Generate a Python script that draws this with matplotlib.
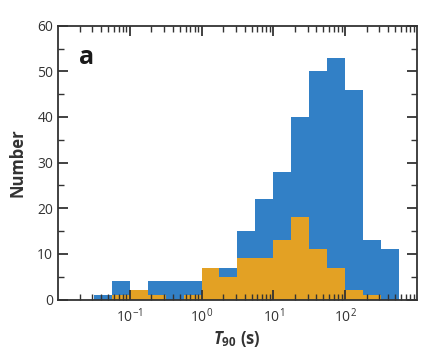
import numpy as np
import matplotlib
matplotlib.use("Agg")
import matplotlib.pyplot as plt
from matplotlib.ticker import LogLocator, MultipleLocator, NullFormatter, FixedLocator


# ============================================================
# Data
# ============================================================

# bin edges are quarter decades, log10(T90) from -1.5 to 2.75
LOG_EDGES = [-1.5, -1.25, -1.0, -0.75, -0.5, -0.25, 0.0, 0.25, 0.5,
             0.75, 1.0, 1.25, 1.5, 1.75, 2.0, 2.25, 2.5, 2.75]

COUNTS_ALL = [1, 4, 2, 4, 4, 4, 7, 7, 15, 22, 28, 40, 50, 53, 46, 13, 11]
COUNTS_SUB = [0, 1, 2, 1, 0, 1, 7, 5, 9, 9, 13, 18, 11, 7, 2, 1, 0]

X_TICK_EXP = [-1, 0, 1, 2]

BLUE = "#3280c6"
ORANGE = "#e3a124"
INK = "#333333"

plt.rcParams["font.family"] = ["Open Sans", "DejaVu Sans"]
plt.rcParams["mathtext.fontset"] = "custom"
plt.rcParams["mathtext.rm"] = "Open Sans"
plt.rcParams["mathtext.it"] = "Open Sans:italic"
plt.rcParams["mathtext.bf"] = "Open Sans:bold"
plt.rcParams["mathtext.bfit"] = "Open Sans:italic:bold"


def main():
    edges = 10 ** np.array(LOG_EDGES)

    fig = plt.figure(figsize=(4.36, 3.57), dpi=100)
    ax = fig.add_axes([0.133, 0.161, 0.823, 0.767])

    ax.stairs(COUNTS_ALL, edges, fill=True, color=BLUE, lw=0)
    ax.stairs(COUNTS_SUB, edges, fill=True, color=ORANGE, lw=0)

    ax.set_xscale("log")
    ax.set_xlim(1e-2, 1e3)
    ax.set_ylim(0, 60)

    ax.xaxis.set_major_locator(FixedLocator([10.0 ** e for e in X_TICK_EXP]))
    ax.set_xticklabels([r"$10^{%d}$" % e for e in X_TICK_EXP])
    ax.xaxis.set_minor_locator(LogLocator(base=10, subs=np.arange(2, 10), numticks=20))
    ax.xaxis.set_minor_formatter(NullFormatter())
    ax.yaxis.set_major_locator(MultipleLocator(10))
    ax.yaxis.set_minor_locator(MultipleLocator(5))

    for side in ax.spines.values():
        side.set_color(INK)
        side.set_linewidth(1.3)

    ax.tick_params(which="both", direction="in", top=True, right=True,
                   color=INK, labelcolor=INK, labelsize=10)
    ax.tick_params(which="major", length=7, width=1.3)
    ax.tick_params(which="minor", length=4, width=1.0)
    ax.tick_params(axis="x", which="major", pad=6)

    ax.set_ylabel("Number", fontsize=12, fontweight="bold", color=INK, labelpad=8)
    ax.set_xlabel(r"$\mathbfit{T}_{\mathbf{90}}$ (s)", fontsize=12, fontweight="bold",
                  color=INK, labelpad=2)

    ax.text(0.058, 0.885, "a", transform=ax.transAxes, fontsize=18,
            fontweight="bold", color="#1a1a1a", va="center")

    fig.savefig("out.png", dpi=100)
    plt.close(fig)


if __name__ == "__main__":
    main()
